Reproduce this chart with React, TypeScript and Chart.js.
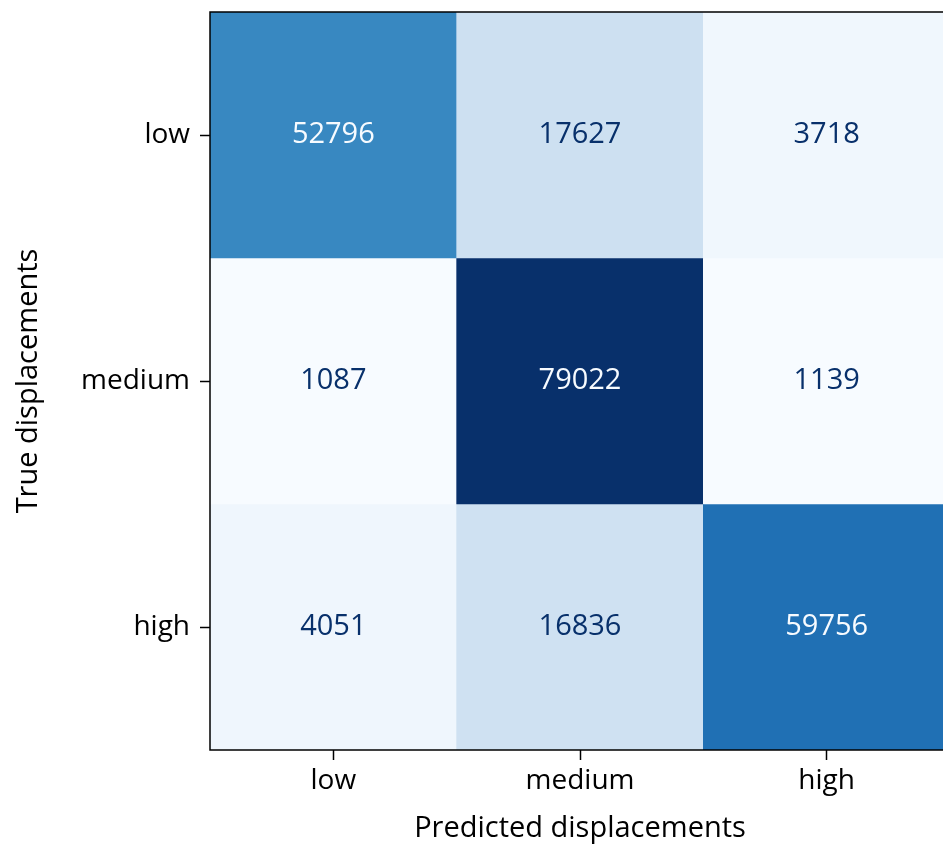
import React, { useEffect, useRef } from "react";
import { Chart, registerables } from "chart.js";

Chart.register(...registerables);

// Class labels and confusion-matrix counts (rows: true class, columns: predicted class)
const rowLabels = ["low", "medium", "high"];
const colLabels = ["low", "medium", "high"];
const countsLow = [52796, 17627, 3718];
const countsMedium = [1087, 79022, 1139];
const countsHigh = [4051, 16836, 59756];
const matrix = [countsLow, countsMedium, countsHigh];

const xTitle = "Predicted displacements";
const yTitle = "True displacements";

// "Blues" sequential colour map stops
const BLUES: [number, number, number][] = [
  [247, 251, 255],
  [222, 235, 247],
  [198, 219, 239],
  [158, 202, 225],
  [107, 174, 214],
  [66, 146, 198],
  [33, 113, 181],
  [8, 81, 156],
  [8, 48, 107],
];

function blues(t: number): string {
  const c = Math.min(1, Math.max(0, t)) * (BLUES.length - 1);
  const i = Math.min(BLUES.length - 2, Math.floor(c));
  const f = c - i;
  const a = BLUES[i];
  const b = BLUES[i + 1];
  const mix = (k: number) => Math.round(a[k] + (b[k] - a[k]) * f);
  return `rgb(${mix(0)},${mix(1)},${mix(2)})`;
}

const FONT = "'Open Sans', 'Noto Sans', 'DejaVu Sans', sans-serif";
const TICK_SIZE = 28;
const TITLE_SIZE = 29;
const CELL_SIZE = 29;

export default function App() {
  const ref = useRef<HTMLCanvasElement | null>(null);

  useEffect(() => {
    document.body.style.margin = "0";
    const canvas = ref.current;
    if (!canvas) return;

    const all = matrix.flat();
    const vmin = Math.min(...all);
    const vmax = Math.max(...all);
    const norm = (v: number) => (v - vmin) / (vmax - vmin);
    const threshold = (vmax + vmin) / 2;

    const datasets = matrix.map((row, r) => ({
      label: rowLabels[r],
      data: row.map(() => [r, r + 1] as [number, number]),
      backgroundColor: row.map((v) => blues(norm(v))),
      borderWidth: 0,
      barPercentage: 1,
      categoryPercentage: 1,
      grouped: false,
    }));

    const cellText = {
      id: "cellText",
      afterDatasetsDraw(chart: any) {
        const ctx = chart.ctx;
        ctx.save();
        ctx.font = `${CELL_SIZE}px ${FONT}`;
        ctx.textAlign = "center";
        ctx.textBaseline = "middle";
        matrix.forEach((row, r) => {
          const meta = chart.getDatasetMeta(r);
          row.forEach((v, c) => {
            const el = meta.data[c];
            const y = (el.y + el.base) / 2;
            ctx.fillStyle = v > threshold ? "#f7fbff" : "#08306b";
            ctx.fillText(String(v), el.x, y);
          });
        });
        ctx.restore();
      },
      afterDraw(chart: any) {
        const { left, top, right, bottom } = chart.chartArea;
        const ctx = chart.ctx;
        ctx.save();
        ctx.strokeStyle = "#000";
        ctx.lineWidth = 1.5;
        ctx.strokeRect(left, top, right - left, bottom - top);
        ctx.restore();
      },
    };

    const chart = new Chart(canvas, {
      type: "bar",
      data: { labels: colLabels, datasets: datasets as any },
      options: {
        animation: false,
        responsive: false,
        maintainAspectRatio: false,
        layout: { padding: { top: 12, right: 10, left: 0, bottom: 0 } },
        plugins: { legend: { display: false }, tooltip: { enabled: false } },
        scales: {
          x: {
            type: "category",
            offset: true,
            afterFit: (s: any) => {
              s.height = 97;
              s.paddingLeft = 0;
              s.paddingRight = 0;
            },
            grid: {
              offset: false,
              drawOnChartArea: false,
              drawTicks: true,
              tickLength: 10,
              tickColor: "#000",
              tickWidth: 1.5,
            },
            border: { display: false },
            ticks: {
              color: "#000",
              padding: 4,
              maxRotation: 0,
              font: { family: FONT, size: TICK_SIZE },
            },
            title: {
              display: true,
              text: xTitle,
              color: "#000",
              padding: { top: 0, bottom: 1 },
              font: { family: FONT, size: TITLE_SIZE },
            },
          },
          y: {
            type: "linear",
            min: 0,
            max: 3,
            reverse: true,
            afterFit: (s: any) => {
              s.width = 210;
              s.paddingTop = 0;
              s.paddingBottom = 0;
            },
            afterBuildTicks: (s: any) => {
              s.ticks = rowLabels.map((_, i) => ({ value: i + 0.5 }));
            },
            grid: {
              drawOnChartArea: false,
              drawTicks: true,
              tickLength: 10,
              tickColor: "#000",
              tickWidth: 1.5,
            },
            border: { display: false },
            ticks: {
              color: "#000",
              padding: 10,
              font: { family: FONT, size: TICK_SIZE },
              callback: (v: any) => rowLabels[Math.floor(Number(v))] ?? "",
            },
            title: {
              display: true,
              text: yTitle,
              color: "#000",
              padding: { top: 11, bottom: 0 },
              font: { family: FONT, size: TITLE_SIZE },
            },
          },
        },
      },
      plugins: [cellText],
    });

    return () => chart.destroy();
  }, []);

  return (
    <div
      style={{
        position: "fixed",
        left: 0,
        top: 0,
        width: 943,
        height: 847,
        overflow: "hidden",
        background: "#fff",
      }}
    >
      <canvas ref={ref} width={960} height={847} style={{ display: "block" }} />
    </div>
  );
}
